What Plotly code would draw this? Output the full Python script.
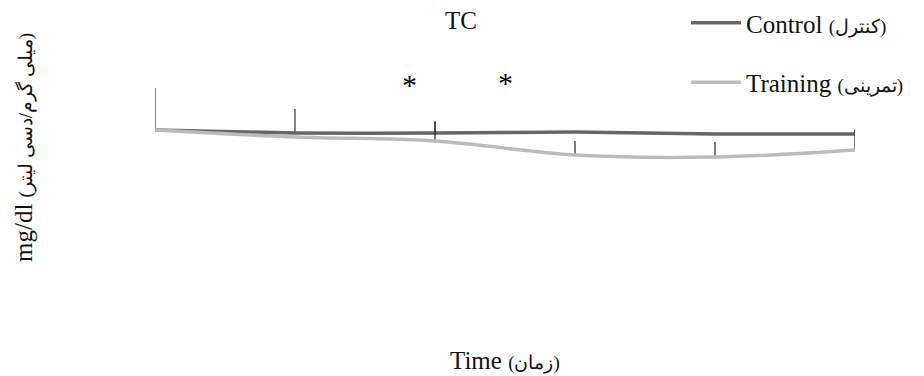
import plotly.graph_objects as go

# Data (arbitrary mg/dl-like units)
time_points = [0, 1, 2, 3, 4, 5]
control = [200, 198.5, 198.5, 199, 198, 198]
training = [200, 196.5, 194.5, 187.5, 186.5, 190]
control_err = [21, 12, 5.5, 0, 0, 0]
training_err = [0, 0, 10, 7, 7.5, 10.5]
star_x = [1.82, 2.5]
star_y = [223, 224]

FONT = "Liberation Serif"


def mixed(latin, arabic, size):
    return f"{latin} <span style='font-size:{size}px'>({arabic})</span>"


fig = go.Figure()
fig.add_trace(go.Scatter(
    x=time_points, y=control, mode="lines", name=mixed("Control", "کنترل", 19),
    line=dict(color="#666666", width=3.5, shape="spline", smoothing=0.6),
    error_y=dict(type="data", symmetric=False, array=control_err,
                 arrayminus=[0] * 6, color="#333333", thickness=1.2, width=0),
    legendgroup="a", cliponaxis=False,
))
fig.add_trace(go.Scatter(
    x=time_points, y=training, mode="lines", name=mixed("Training", "تمرینی", 19),
    line=dict(color="#bbbbbb", width=3.5, shape="spline"),
    error_y=dict(type="data", symmetric=False, array=training_err,
                 arrayminus=[0] * 6, color="#222222", thickness=1.2, width=0),
    legendgroup="b", cliponaxis=False,
))

for sx, sy in zip(star_x, star_y):
    fig.add_annotation(x=sx, y=sy, xref="x", yref="y", text="*", showarrow=False,
                       xanchor="center", yanchor="middle",
                       font=dict(family=FONT, size=30, color="#000000"))

fig.add_annotation(x=(461 - 155) / 700, y=(330 - 20) / 290, xref="paper", yref="paper",
                   xanchor="center", yanchor="middle",
                   text="TC", showarrow=False, font=dict(family=FONT, size=25, color="#111"))
fig.add_annotation(x=0.5, y=(330 - 360) / 290, xref="paper", yref="paper",
                   xanchor="center", yanchor="middle",
                   text=mixed("Time", "زمان", 19), showarrow=False,
                   font=dict(family=FONT, size=25, color="#111"))
fig.add_annotation(x=(23 - 155) / 700, y=(330 - 148) / 290, xref="paper", yref="paper",
                   xanchor="center", yanchor="middle",
                   text=mixed("mg/dl", "میلی گرم/دسی لیتر", 19), textangle=-90, showarrow=False,
                   font=dict(family=FONT, size=25, color="#111"))

fig.update_layout(
    width=924, height=376,
    margin=dict(l=147, r=77, t=32, b=54, autoexpand=False),
    paper_bgcolor="white", plot_bgcolor="white",
    font=dict(family=FONT),
    showlegend=True,
    legend=dict(x=(686 - 155) / 700, y=(330 - 0) / 290, xanchor="left", yanchor="top",
                font=dict(family=FONT, size=25, color="#111"),
                tracegroupgap=24, itemwidth=50, bgcolor="rgba(0,0,0,0)"),
    xaxis=dict(range=[0, 5], visible=False, showgrid=False, zeroline=False),
    yaxis=dict(range=[100, 245], visible=False, showgrid=False, zeroline=False),
)

fig.write_html("out.html")
